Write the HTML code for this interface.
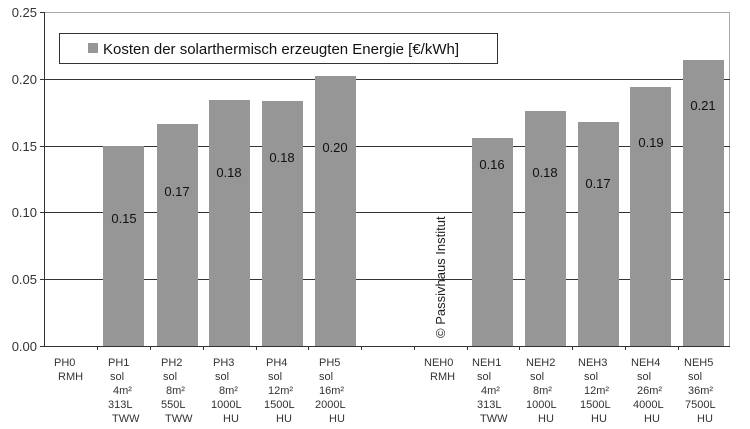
<!DOCTYPE html>
<html><head><meta charset="utf-8"><style>
html,body{margin:0;padding:0;background:#fff;}
svg{display:block;font-family:"Liberation Sans",Arial,sans-serif;}
</style></head><body>
<svg width="750" height="429" viewBox="0 0 750 429" xmlns="http://www.w3.org/2000/svg">
<rect width="750" height="429" fill="#fff"/>
<!-- frame -->
<line x1="44" y1="12.5" x2="730" y2="12.5" stroke="#aaa" stroke-width="1"/>
<line x1="729.5" y1="12" x2="729.5" y2="346" stroke="#aaa" stroke-width="1"/>
<!-- gridlines -->
<g stroke="#333" stroke-width="1">
<line x1="44" y1="79.5" x2="730" y2="79.5"/>
<line x1="44" y1="146.5" x2="730" y2="146.5"/>
<line x1="44" y1="212.5" x2="730" y2="212.5"/>
<line x1="44" y1="279.5" x2="730" y2="279.5"/>
</g>
<!-- bars -->
<g fill="#969696">
<rect x="103" y="146" width="41" height="200"/>
<rect x="157" y="124" width="41" height="222"/>
<rect x="209" y="100" width="41" height="246"/>
<rect x="262" y="101" width="41" height="245"/>
<rect x="315" y="76" width="41" height="270"/>
<rect x="472" y="138" width="41" height="208"/>
<rect x="525" y="111" width="41" height="235"/>
<rect x="578" y="122" width="41" height="224"/>
<rect x="630" y="87" width="41" height="259"/>
<rect x="683" y="60" width="41" height="286"/>
</g>
<!-- axes -->
<g stroke="#333" stroke-width="1">
<line x1="44.5" y1="12" x2="44.5" y2="346"/>
<line x1="40" y1="346.5" x2="730" y2="346.5"/>
<line x1="40" y1="12.5" x2="44" y2="12.5"/>
<line x1="40" y1="79.5" x2="44" y2="79.5"/>
<line x1="40" y1="146.5" x2="44" y2="146.5"/>
<line x1="40" y1="212.5" x2="44" y2="212.5"/>
<line x1="40" y1="279.5" x2="44" y2="279.5"/>
<line x1="97.5" y1="346" x2="97.5" y2="350"/>
<line x1="150.5" y1="346" x2="150.5" y2="350"/>
<line x1="203.5" y1="346" x2="203.5" y2="350"/>
<line x1="256.5" y1="346" x2="256.5" y2="350"/>
<line x1="308.5" y1="346" x2="308.5" y2="350"/>
<line x1="361.5" y1="346" x2="361.5" y2="350"/>
<line x1="414.5" y1="346" x2="414.5" y2="350"/>
<line x1="467.5" y1="346" x2="467.5" y2="350"/>
<line x1="519.5" y1="346" x2="519.5" y2="350"/>
<line x1="572.5" y1="346" x2="572.5" y2="350"/>
<line x1="625.5" y1="346" x2="625.5" y2="350"/>
<line x1="678.5" y1="346" x2="678.5" y2="350"/>
</g>
<!-- y labels -->
<g font-size="13" fill="#333" text-anchor="end">
<text x="37" y="17">0.25</text>
<text x="37" y="84">0.20</text>
<text x="37" y="151">0.15</text>
<text x="37" y="217">0.10</text>
<text x="37" y="284">0.05</text>
<text x="37" y="351">0.00</text>
</g>
<!-- value labels -->
<g font-size="13" fill="#111" text-anchor="middle">
<text x="124" y="223">0.15</text>
<text x="177" y="196">0.17</text>
<text x="229" y="177">0.18</text>
<text x="282" y="162">0.18</text>
<text x="335" y="152">0.20</text>
<text x="492" y="169">0.16</text>
<text x="545" y="177">0.18</text>
<text x="598" y="188">0.17</text>
<text x="651" y="147">0.19</text>
<text x="703" y="110">0.21</text>
</g>
<!-- legend -->
<rect x="59.5" y="33.5" width="438" height="30" fill="#fff" stroke="#333" stroke-width="1"/>
<rect x="88" y="43" width="10" height="10" fill="#969696"/>
<text x="103" y="54" font-size="15" fill="#111">Kosten der solarthermisch erzeugten Energie [€/kWh]</text>
<!-- copyright -->
<text transform="translate(445,338) rotate(-90)" font-size="13" fill="#222">© Passivhaus Institut</text>
<!-- category labels -->
<g font-size="11" fill="#333">
<text x="54" y="366">PH0</text><text x="58" y="380">RMH</text>

<text x="108" y="366">PH1</text><text x="110" y="380">sol</text><text x="113" y="394">4m²</text><text x="108" y="408">313L</text><text x="112" y="422">TWW</text>
<text x="161" y="366">PH2</text><text x="163" y="380">sol</text><text x="166" y="394">8m²</text><text x="161" y="408">550L</text><text x="165" y="422">TWW</text>
<text x="213" y="366">PH3</text><text x="215" y="380">sol</text><text x="219" y="394">8m²</text><text x="211" y="408">1000L</text><text x="223" y="422">HU</text>
<text x="266" y="366">PH4</text><text x="268" y="380">sol</text><text x="268" y="394">12m²</text><text x="264" y="408">1500L</text><text x="276" y="422">HU</text>
<text x="319" y="366">PH5</text><text x="319" y="380">sol</text><text x="319" y="394">16m²</text><text x="315" y="408">2000L</text><text x="329" y="422">HU</text>

<text x="424" y="366">NEH0</text><text x="430" y="380">RMH</text>
<text x="472" y="366">NEH1</text><text x="477" y="380">sol</text><text x="481" y="394">4m²</text><text x="477" y="408">313L</text><text x="480" y="422">TWW</text>
<text x="526" y="366">NEH2</text><text x="530" y="380">sol</text><text x="533" y="394">8m²</text><text x="526" y="408">1000L</text><text x="538" y="422">HU</text>
<text x="578" y="366">NEH3</text><text x="584" y="380">sol</text><text x="584" y="394">12m²</text><text x="580" y="408">1500L</text><text x="591" y="422">HU</text>
<text x="631" y="366">NEH4</text><text x="637" y="380">sol</text><text x="637" y="394">26m²</text><text x="633" y="408">4000L</text><text x="644" y="422">HU</text>
<text x="684" y="366">NEH5</text><text x="688" y="380">sol</text><text x="688" y="394">36m²</text><text x="685" y="408">7500L</text><text x="697" y="422">HU</text>
</g>
</svg>
</body></html>
